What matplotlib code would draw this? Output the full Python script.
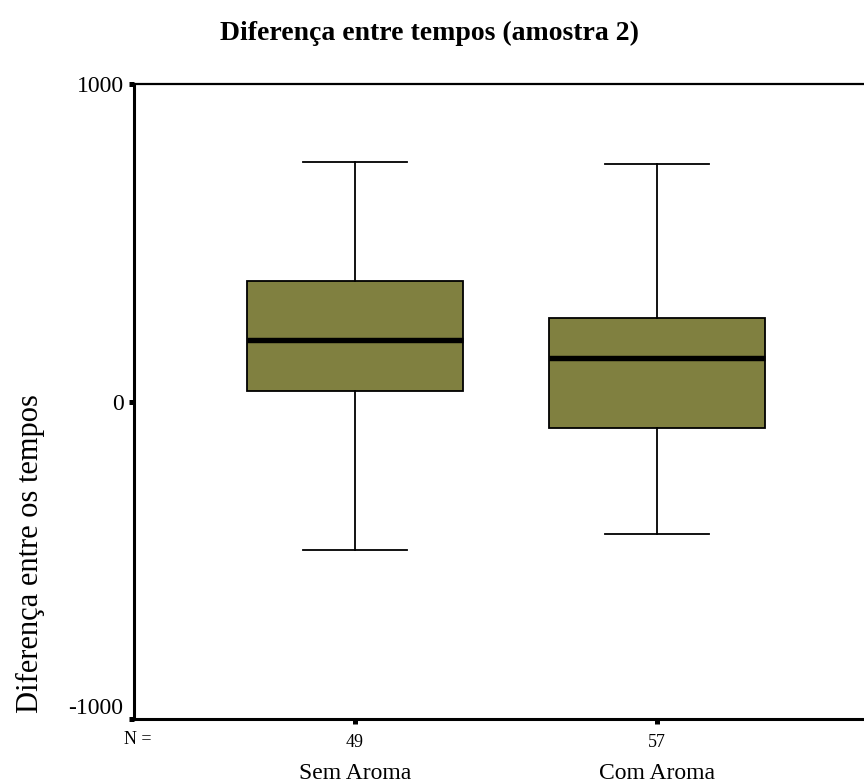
"""Boxplot: diferença entre tempos (amostra 2)."""

import matplotlib

matplotlib.use("Agg")
import matplotlib.pyplot as plt

plt.rcParams["font.family"] = ["Liberation Serif", "DejaVu Serif"]

groups = ["Sem Aroma", "Com Aroma"]
counts = [49, 57]
medians = [194, 137]
q1_values = [34, -83]
q3_values = [381, 263]
whisker_low = [-468, -417]
whisker_high = [754, 748]

box_color = "#808040"

fig = plt.figure(figsize=(8.64, 7.83), dpi=100)
ax = fig.add_axes([0.1551, 0.0817, 0.861, 0.811])

stats = []
for name, med, q1, q3, lo, hi in zip(groups, medians, q1_values, q3_values, whisker_low, whisker_high):
    stats.append({"label": name, "med": med, "q1": q1, "q3": q3,
                  "whislo": lo, "whishi": hi, "fliers": []})

ax.bxp(
    stats,
    positions=[1, 2],
    widths=0.715,
    capwidths=0.345,
    patch_artist=True,
    showfliers=False,
    boxprops=dict(facecolor=box_color, edgecolor="black", linewidth=1.3),
    medianprops=dict(color="black", linewidth=3.9, solid_capstyle="butt"),
    whiskerprops=dict(color="black", linewidth=1.3),
    capprops=dict(color="black", linewidth=1.3),
)

ax.set_xlim(0.268, 2.732)
ax.set_ylim(-1000, 1000)
ax.set_yticks([-1000, 0, 1000])
ax.set_yticklabels(["-1000", "0", "1000"], fontsize=17)
ax.set_xticks([1, 2])
ax.set_xticklabels([str(n) for n in counts], fontsize=13)
ax.tick_params(axis="both", direction="out", length=3.5, width=3.6, color="black")
ax.tick_params(axis="y", pad=4)
ax.tick_params(axis="x", pad=7)
# SPSS puts the lowest label just above the axis line
ax.get_yticklabels()[0].set_va("bottom")

for side in ["left", "bottom"]:
    ax.spines[side].set_linewidth(2.2)
ax.spines["top"].set_linewidth(1.6)
ax.spines["right"].set_visible(False)

xaxis_tf = ax.get_xaxis_transform()
for pos, name in zip([1, 2], groups):
    ax.text(pos, -0.086, name, transform=xaxis_tf,
            ha="center", va="center", fontsize=17)
ax.text(0.268 + 0.012, -0.033, "N =", transform=xaxis_tf,
        ha="center", va="center", fontsize=13)

fig.text(30 / 864, 1 - 554 / 783, "Diferença entre os tempos", rotation=90,
         ha="center", va="center", fontsize=22)
fig.text(0.497, 1 - 33 / 783, "Diferença entre tempos (amostra 2)", ha="center",
         va="center", fontsize=20, fontweight="bold")

fig.savefig("out.png", dpi=100)
